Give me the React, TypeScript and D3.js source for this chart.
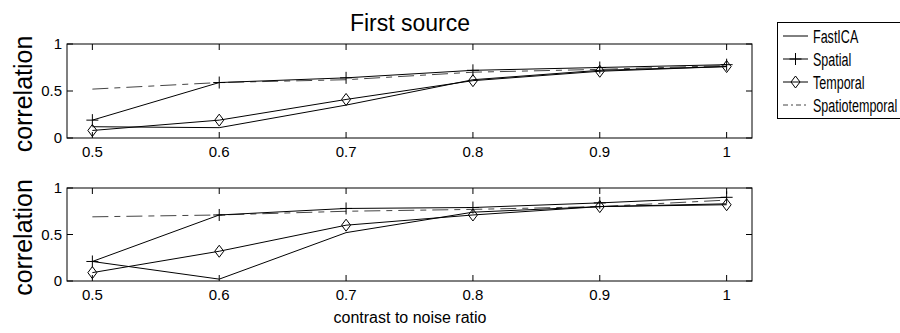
import React from "react";
import * as d3 from "d3";

// contrast-to-noise ratio (x)
const cnr = [0.5, 0.6, 0.7, 0.8, 0.9, 1.0];
const xTicks = [0.5, 0.6, 0.7, 0.8, 0.9, 1];
const xTickLabels = ["0.5", "0.6", "0.7", "0.8", "0.9", "1"];
const yTicks = [0, 0.5, 1];
const yTickLabels = ["0", "0.5", "1"];

// panel 1
const fastIcaTop = [0.12, 0.11, 0.35, 0.62, 0.72, 0.76];
const spatialTop = [0.19, 0.59, 0.64, 0.72, 0.75, 0.78];
const temporalTop = [0.08, 0.19, 0.41, 0.61, 0.71, 0.76];
const spatioTop = [0.52, 0.59, 0.62, 0.70, 0.73, 0.77];

// panel 2
const fastIcaBottom = [0.21, 0.02, 0.52, 0.74, 0.80, 0.83];
const spatialBottom = [0.21, 0.71, 0.78, 0.79, 0.84, 0.90];
const temporalBottom = [0.09, 0.32, 0.60, 0.71, 0.80, 0.82];
const spatioBottom = [0.69, 0.71, 0.75, 0.77, 0.80, 0.87];

const legendNames = ["FastICA", "Spatial", "Temporal", "Spatiotemporal"];

const FONT = "'Liberation Sans', Arial, sans-serif";

const x = d3.scaleLinear().domain([0.48, 1.02]).range([67, 752]);

type Panel = {
  top: number;
  bottom: number;
  fast: number[];
  spatial: number[];
  temporal: number[];
  spatio: number[];
};

const panels: Panel[] = [
  { top: 44, bottom: 138, fast: fastIcaTop, spatial: spatialTop, temporal: temporalTop, spatio: spatioTop },
  { top: 188, bottom: 281, fast: fastIcaBottom, spatial: spatialBottom, temporal: temporalBottom, spatio: spatioBottom },
];

const DASH = "16,6,6,6";

function Plus({ cx, cy }: { cx: number; cy: number }) {
  return (
    <path d={`M${cx - 6},${cy}H${cx + 6}M${cx},${cy - 6}V${cy + 6}`} stroke="#000" strokeWidth={1} fill="none" />
  );
}

function Diamond({ cx, cy }: { cx: number; cy: number }) {
  return (
    <path
      d={`M${cx},${cy - 6}L${cx + 4.5},${cy}L${cx},${cy + 6}L${cx - 4.5},${cy}Z`}
      stroke="#000"
      strokeWidth={1}
      fill="none"
    />
  );
}

function PanelView({ p }: { p: Panel }) {
  const y = d3.scaleLinear().domain([0, 1]).range([p.bottom, p.top]);
  const line = d3
    .line<number>()
    .x((_, i) => x(cnr[i]))
    .y((d) => y(d));
  const [x0, x1] = x.range();
  return (
    <g>
      {/* series */}
      <path d={line(p.spatio) || ""} stroke="#444" strokeWidth={1} strokeDasharray={DASH} fill="none" />
      <path d={line(p.fast) || ""} stroke="#000" strokeWidth={1} fill="none" />
      <path d={line(p.spatial) || ""} stroke="#000" strokeWidth={1} fill="none" />
      <path d={line(p.temporal) || ""} stroke="#000" strokeWidth={1} fill="none" />
      {p.spatial.map((v, i) => (
        <Plus key={"p" + i} cx={x(cnr[i])} cy={y(v)} />
      ))}
      {p.temporal.map((v, i) => (
        <Diamond key={"d" + i} cx={x(cnr[i])} cy={y(v)} />
      ))}

      {/* box */}
      <rect x={x0} y={p.top} width={x1 - x0} height={p.bottom - p.top} fill="none" stroke="#000" strokeWidth={1} />

      {/* x ticks */}
      {xTicks.map((t, i) => (
        <g key={"xt" + i}>
          <line x1={x(t)} x2={x(t)} y1={p.bottom} y2={p.bottom - 6} stroke="#000" />
          <line x1={x(t)} x2={x(t)} y1={p.top} y2={p.top + 6} stroke="#000" />
          <text
            x={x(t)}
            y={p.bottom + 19}
            textAnchor="middle"
            fontFamily={FONT}
            fontSize={15}
            fill="#000"
          >
            {xTickLabels[i]}
          </text>
        </g>
      ))}

      {/* y ticks */}
      {yTicks.map((t, i) => (
        <g key={"yt" + i}>
          <line x1={x0} x2={x0 + 6} y1={y(t)} y2={y(t)} stroke="#000" />
          <line x1={x1} x2={x1 - 6} y1={y(t)} y2={y(t)} stroke="#000" />
          <text
            x={x0 - 5}
            y={y(t)}
            dy="0.35em"
            textAnchor="end"
            fontFamily={FONT}
            fontSize={15}
            fill="#000"
          >
            {yTickLabels[i]}
          </text>
        </g>
      ))}

      {/* y label */}
      <text
        transform={`translate(32,${(p.top + p.bottom) / 2 + 3}) rotate(-90)`}
        textAnchor="middle"
        fontFamily={FONT}
        fontSize={25}
        fill="#000"
      >
        correlation
      </text>
    </g>
  );
}

export default function App() {
  const legendTop = 22;
  const rowY = d3.scalePoint<string>().domain(legendNames).range([36, 105]);
  return (
    <svg width={900} height={333} style={{ position: "absolute", left: 0, top: 0, background: "#fff" }}>
      <rect x={0} y={0} width={900} height={333} fill="#fff" />
      <text x={410} y={31} textAnchor="middle" fontFamily={FONT} fontSize={23} fill="#000">
        First source
      </text>

      {panels.map((p, i) => (
        <PanelView key={i} p={p} />
      ))}

      <text x={410} y={323} textAnchor="middle" fontFamily={FONT} fontSize={16} fill="#000">
        contrast to noise ratio
      </text>

      {/* legend */}
      <rect x={777.5} y={legendTop + 0.5} width={140} height={96} fill="#fff" stroke="#000" strokeWidth={1} />
      {legendNames.map((name, i) => {
        const cy = rowY(name) || 0;
        return (
          <g key={name}>
            <line
              x1={783}
              x2={808}
              y1={cy}
              y2={cy}
              stroke={i === 3 ? "#444" : "#000"}
              strokeDasharray={i === 3 ? "5,3,2,3" : undefined}
            />
            {i === 1 && <Plus cx={795.5} cy={cy} />}
            {i === 2 && <Diamond cx={795.5} cy={cy} />}
            <text
              transform={`translate(813,${cy}) scale(0.66,1)`}
              dy="0.35em"
              fontFamily={FONT}
              fontSize={19}
              fill="#000"
            >
              {name}
            </text>
          </g>
        );
      })}
    </svg>
  );
}
